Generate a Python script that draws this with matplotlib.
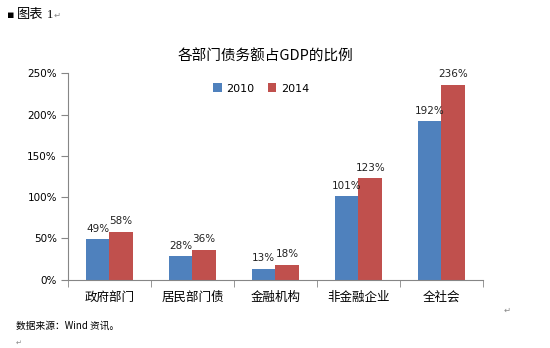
import matplotlib.pyplot as plt
import numpy as np

plt.rcParams['font.family'] = ['Noto Sans CJK SC', 'DejaVu Sans']

categories = ['政府部门', '居民部门债', '金融机构', '非金融企业', '全社会']
years = ['2010', '2014']
ratio_2010 = [49, 28, 13, 101, 192]
ratio_2014 = [58, 36, 18, 123, 236]
yticks = [0, 50, 100, 150, 200, 250]

blue = '#4F81BD'
red = '#C0504D'
axis_gray = '#868686'

fig = plt.figure(figsize=(5.5, 3.48), dpi=100)
ax = fig.add_axes([0.1236, 0.1968, 0.7545, 0.592])

x = np.arange(len(categories))
w = 0.283
bars1 = ax.bar(x - w / 2, ratio_2010, w, color=blue, label=years[0])
bars2 = ax.bar(x + w / 2, ratio_2014, w, color=red, label=years[1])

for bars, vals in ((bars1, ratio_2010), (bars2, ratio_2014)):
    for b, v in zip(bars, vals):
        ax.annotate(f'{v}%', (b.get_x() + b.get_width() / 2, v),
                    xytext=(0, 4), textcoords='offset points',
                    ha='center', va='bottom', fontsize=7.5,
                    family='DejaVu Sans', color='#222222')

ax.set_xlim(-0.5, len(categories) - 0.5)
ax.set_ylim(0, 250)
ax.set_yticks(yticks)
ax.set_yticklabels([f'{t}%' for t in yticks], fontsize=7.5, family='DejaVu Sans')

# category names in the middle, tick marks on the boundaries
ax.set_xticks(x)
ax.set_xticklabels(categories, fontsize=9)
ax.tick_params(axis='x', length=0, pad=8)
ax.set_xticks(np.arange(len(categories) + 1) - 0.5, minor=True)
ax.tick_params(axis='x', which='minor', length=5, color=axis_gray)
ax.tick_params(axis='y', length=5, color=axis_gray, pad=3)

for s in ('top', 'right'):
    ax.spines[s].set_visible(False)
for s in ('left', 'bottom'):
    ax.spines[s].set_color(axis_gray)

ax.legend(loc='upper center', bbox_to_anchor=(0.465, 1.0), ncol=2, frameon=False,
          handlelength=0.8, handleheight=0.8, handletextpad=0.4,
          columnspacing=1.2, prop={'family': 'DejaVu Sans', 'size': 8})

fig.text(0.482, 0.838, '各部门债务额占GDP的比例', ha='center', va='center', fontsize=10.5)

fig.text(0.012, 0.958, '▪', ha='left', va='center', fontsize=8, family='DejaVu Sans')
fig.text(0.03, 0.958, '图表', ha='left', va='center', fontsize=9.5)
fig.text(0.085, 0.958, '1', ha='left', va='center', fontsize=9, family='Liberation Serif')
fig.text(0.098, 0.955, '↵', ha='left', va='center', fontsize=6, color='#888888', family='DejaVu Sans')

fig.text(0.03, 0.063, '数据来源：Wind 资讯。', ha='left', va='center', fontsize=7)
fig.text(0.915, 0.108, '↵', ha='left', va='center', fontsize=6, color='#888888', family='DejaVu Sans')
fig.text(0.028, 0.014, '↵', ha='left', va='center', fontsize=5, color='#888888', family='DejaVu Sans')

fig.savefig('out.png', dpi=100)
